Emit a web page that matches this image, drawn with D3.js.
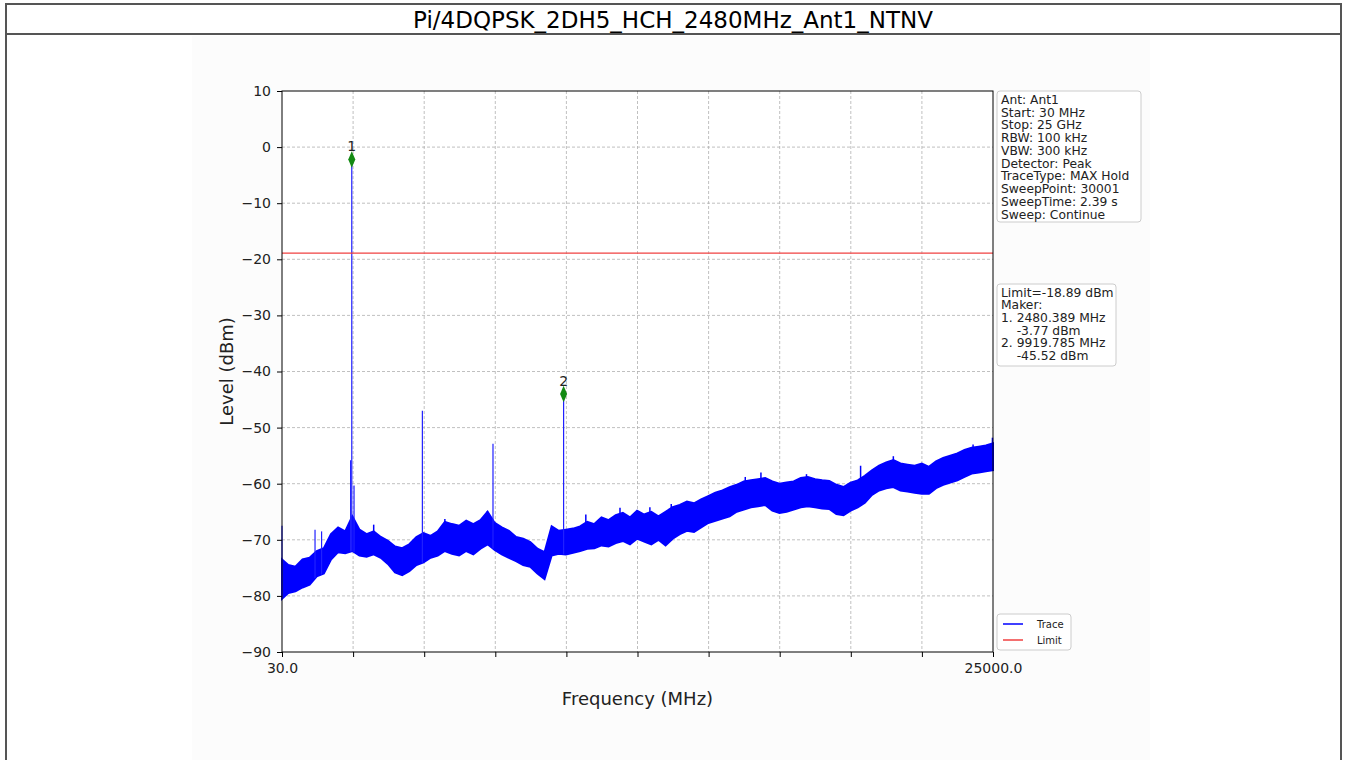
<!DOCTYPE html>
<html>
<head>
<meta charset="utf-8">
<script src="https://cdn.jsdelivr.net/npm/d3@7"></script>
<style>
  body { margin: 0; background: #fff; }
  svg text { font-family: "DejaVu Sans", sans-serif; }
</style>
</head>
<body>
<div class="chart"></div>
<script>
var svgWidth = 1346;
var svgHeight = 760;

// noise floor envelope (MHz, dBm)
var freqs = [30, 250, 500, 750, 1000, 1250, 1500, 1750, 2000, 2250, 2500, 2750, 3000, 3250, 3500, 3750,
  4000, 4250, 4500, 4750, 5000, 5250, 5500, 5750, 6000, 6250, 6500, 6750, 7000, 7250, 7500, 7750,
  8000, 8250, 8500, 8750, 9000, 9250, 9500, 9750, 10000, 10250, 10500, 10750, 11000, 11250, 11500, 11750,
  12000, 12250, 12500, 12750, 13000, 13250, 13500, 13750, 14000, 14250, 14500, 14750, 15000, 15250, 15500, 15750,
  16000, 16250, 16500, 16750, 17000, 17250, 17500, 17750, 18000, 18250, 18500, 18750, 19000, 19250, 19500, 19750,
  20000, 20250, 20500, 20750, 21000, 21250, 21500, 21750, 22000, 22250, 22500, 22750, 23000, 23250, 23500, 23750,
  24000, 24250, 24500, 24750, 25000];
var levelHigh = [-73.5, -74.5, -74.8, -73.5, -73.2, -72, -71.5, -69, -67.8, -68.5, -65.8, -68.2, -69, -68.5, -69.5, -70.2,
  -71.2, -71.5, -70.8, -69.5, -68.8, -69.3, -68.5, -66.8, -67.2, -67.5, -66.6, -67.2, -66.5, -65, -67, -67.8,
  -68.4, -69.5, -69.8, -70.4, -71.6, -72.2, -67.6, -68.4, -68.2, -68, -67.6, -66.8, -67.2, -66, -66.5, -65.6,
  -65.2, -66, -64.8, -65.5, -65, -65.8, -65, -64.2, -63.8, -63.2, -63.5, -62.8, -62.2, -61.6, -61.2, -60.6,
  -60.2, -59.6, -59.4, -59.2, -59, -59.6, -60, -59.8, -59.6, -59, -58.8, -59.2, -59.4, -59.5, -60.2, -60.6,
  -59.8, -59.4, -58.6, -57.6, -56.8, -56.2, -55.8, -56.4, -56.6, -56.8, -56.4, -57, -56, -55.4, -55, -54.6,
  -54, -53.6, -53.4, -53.2, -52.8];
var levelLow = [-80.5, -79.5, -79.2, -78.5, -78, -76.5, -76, -73.5, -72.2, -72.4, -72, -72.8, -73, -72.6, -73.2, -74.3,
  -75.8, -76.3, -75.6, -74.5, -74, -73.2, -72.8, -72, -72.5, -72.8, -72, -72.6, -71.6, -70.8, -71.8, -72.6,
  -73.2, -73.8, -74.5, -74.8, -76, -77, -72.8, -72.5, -72.6, -72.3, -72, -71.6, -71.5, -71, -71.2, -70.6,
  -70.2, -70.8, -69.8, -70.3, -70.8, -70, -71, -69.8, -69, -68.4, -68.6, -67.8, -67, -66.6, -66.2, -65.8,
  -65, -64.6, -64.2, -64, -63.8, -64.8, -65.2, -65, -64.6, -64.2, -64, -64.2, -64.4, -64.5, -65.4, -65.6,
  -64.8, -64.2, -63.4, -62, -61.2, -60.8, -60.6, -61.2, -61.4, -61.6, -61.8, -61.8, -60.8, -60.2, -59.8, -59.4,
  -58.8, -58.2, -58, -57.8, -57.6];

// narrow spurs rising out of the noise floor
var spurFreqs = [30, 1190, 1420, 2440, 2480.389, 2560, 4960, 7440, 9919.785];
var spurLevels = [-67.5, -68.2, -68.5, -55.8, -2.2, -60.3, -47, -52.9, -44.0];

// small noise peaks on top of the floor
var peakFreqs = [3250, 5750, 6560, 7240, 10700, 11900, 12950, 13700, 16300, 16850, 18450, 20350, 21500, 24300, 24980];
var peakLevels = [-67.3, -66.3, -66.8, -64.9, -65.5, -64.3, -64.2, -63.6, -58.8, -58, -58.3, -56.8, -55.1, -53, -51.8];

// markers
var markerNames = ["1", "2"];
var markerFreqs = [2480.389, 9919.785];
var markerLevels = [-2.2, -44.0];

var limitLevel = -18.89;

var yTicks = [-90, -80, -70, -60, -50, -40, -30, -20, -10, 0, 10];
var xTicks = [30, 2527, 5024, 7521, 10018, 12515, 15012, 17509, 20006, 22503, 25000];
var xTickLabels = ["30.0", "", "", "", "", "", "", "", "", "", "25000.0"];

var infoLines = ["Ant: Ant1", "Start: 30 MHz", "Stop: 25 GHz", "RBW: 100 kHz", "VBW: 300 kHz",
  "Detector: Peak", "TraceType: MAX Hold", "SweepPoint: 30001", "SweepTime: 2.39 s", "Sweep: Continue"];
var markerLines = ["Limit=-18.89 dBm", "Maker:", "1. 2480.389 MHz", "    -3.77 dBm", "2. 9919.785 MHz", "    -45.52 dBm"];

var title = "Pi/4DQPSK_2DH5_HCH_2480MHz_Ant1_NTNV";

var plot = { left: 282, right: 993, top: 91, bottom: 652 };

var svg = d3.select(".chart")
  .append("svg")
  .attr("width", svgWidth)
  .attr("height", svgHeight);

// table frame with title cell
svg.append("rect").attr("x", 192).attr("y", 36).attr("width", 958).attr("height", 724).attr("fill", "#fcfcfc");
svg.append("line").attr("x1", 5).attr("x2", 1342).attr("y1", 4).attr("y2", 4).attr("stroke", "#555").attr("stroke-width", 2);
svg.append("line").attr("x1", 5).attr("x2", 1342).attr("y1", 34).attr("y2", 34).attr("stroke", "#555").attr("stroke-width", 2);
svg.append("line").attr("x1", 6).attr("x2", 6).attr("y1", 3).attr("y2", 760).attr("stroke", "#555").attr("stroke-width", 2);
svg.append("line").attr("x1", 1341).attr("x2", 1341).attr("y1", 3).attr("y2", 760).attr("stroke", "#555").attr("stroke-width", 2);

svg.append("text")
  .attr("x", 673).attr("y", 28)
  .attr("text-anchor", "middle")
  .attr("font-size", "23px")
  .attr("font-family", "'Liberation Sans', Arial, sans-serif")
  .attr("fill", "#000")
  .text(title);

var x = d3.scaleLinear().domain([30, 25000]).range([plot.left, plot.right]);
var y = d3.scaleLinear().domain([-90, 10]).range([plot.bottom, plot.top]);

var chart = svg.append("g");

chart.append("rect")
  .attr("x", plot.left).attr("y", plot.top)
  .attr("width", plot.right - plot.left).attr("height", plot.bottom - plot.top)
  .attr("fill", "#fff");

// grid
chart.selectAll(".vgrid").data(xTicks.slice(1, -1)).enter().append("line")
  .attr("x1", d => x(d)).attr("x2", d => x(d))
  .attr("y1", plot.top).attr("y2", plot.bottom)
  .attr("stroke", "#b0b0b0").attr("stroke-width", 0.8).attr("stroke-dasharray", "3,2");
chart.selectAll(".hgrid").data(yTicks.slice(1, -1)).enter().append("line")
  .attr("x1", plot.left).attr("x2", plot.right)
  .attr("y1", d => y(d)).attr("y2", d => y(d))
  .attr("stroke", "#b0b0b0").attr("stroke-width", 0.8).attr("stroke-dasharray", "3,2");

// trace: noise band
var band = freqs.map(function(f, i) { return { f: f, hi: levelHigh[i], lo: levelLow[i] }; });
var area = d3.area()
  .x(d => x(d.f))
  .y0(d => y(d.lo))
  .y1(d => y(d.hi));
chart.append("path")
  .datum(band)
  .attr("d", area)
  .attr("fill", "#0000ff")
  .attr("stroke", "#0000ff")
  .attr("stroke-width", 2)
  .attr("stroke-linejoin", "miter");

var lowAt = d3.scaleLinear().domain(freqs).range(levelLow);
var highAt = d3.scaleLinear().domain(freqs).range(levelHigh);

// noise peaks
chart.selectAll(".peak").data(peakFreqs).enter().append("line")
  .attr("x1", d => x(d)).attr("x2", d => x(d))
  .attr("y1", d => y(highAt(d)) + 2)
  .attr("y2", (d, i) => y(peakLevels[i]))
  .attr("stroke", "#0000ff").attr("stroke-width", 1.5);

// spurs
chart.selectAll(".spur").data(spurFreqs).enter().append("line")
  .attr("x1", d => x(d)).attr("x2", d => x(d))
  .attr("y1", d => y(lowAt(d)))
  .attr("y2", (d, i) => y(spurLevels[i]))
  .attr("stroke", "#2020ff").attr("stroke-width", 1.2);

// limit
chart.append("line")
  .attr("x1", plot.left).attr("x2", plot.right)
  .attr("y1", y(limitLevel)).attr("y2", y(limitLevel))
  .attr("stroke", "#f04040").attr("stroke-width", 1.2);

// markers
var diamond = d3.symbol().type(d3.symbolDiamond).size(60);
chart.selectAll(".marker").data(markerFreqs).enter().append("path")
  .attr("d", diamond)
  .attr("transform", (d, i) => "translate(" + x(d) + "," + y(markerLevels[i]) + ") scale(0.85,1.15)")
  .attr("fill", "#138a13");
chart.selectAll(".mlabel").data(markerFreqs).enter().append("text")
  .attr("x", d => x(d))
  .attr("y", (d, i) => y(markerLevels[i]) - 8)
  .attr("text-anchor", "middle")
  .attr("font-size", "14px")
  .attr("fill", "#222")
  .text((d, i) => markerNames[i]);

// frame
chart.append("rect")
  .attr("x", plot.left).attr("y", plot.top)
  .attr("width", plot.right - plot.left).attr("height", plot.bottom - plot.top)
  .attr("fill", "none").attr("stroke", "#000").attr("stroke-width", 1);

// axes
var bottomAxis = d3.axisBottom(x).tickValues(xTicks).tickSize(5).tickPadding(6)
  .tickFormat((d, i) => xTickLabels[i]);
var leftAxis = d3.axisLeft(y).tickValues(yTicks).tickSize(5).tickPadding(6)
  .tickFormat(d => String(d).replace("-", "\u2212"));

var gx = chart.append("g").attr("transform", "translate(0," + plot.bottom + ")").call(bottomAxis);
var gy = chart.append("g").attr("transform", "translate(" + plot.left + ",0)").call(leftAxis);
[gx, gy].forEach(function(g) {
  g.select(".domain").remove();
  g.selectAll("text").attr("font-size", "14px").attr("fill", "#222")
    .attr("font-family", "'DejaVu Sans', sans-serif");
  g.selectAll("line").attr("stroke", "#000");
});

chart.append("text")
  .attr("x", (plot.left + plot.right) / 2).attr("y", 705)
  .attr("text-anchor", "middle").attr("font-size", "18px").attr("fill", "#222")
  .text("Frequency (MHz)");
chart.append("text")
  .attr("transform", "translate(233," + ((plot.top + plot.bottom) / 2) + ") rotate(-90)")
  .attr("text-anchor", "middle").attr("font-size", "18px").attr("fill", "#222")
  .text("Level (dBm)");

// info boxes
function textBox(x0, y0, w, h, lines, lineH, size) {
  var g = svg.append("g");
  g.append("rect").attr("x", x0).attr("y", y0).attr("width", w).attr("height", h)
    .attr("rx", 3).attr("fill", "#fff").attr("stroke", "#ccc").attr("stroke-width", 1);
  g.selectAll("text").data(lines).enter().append("text")
    .attr("x", x0 + 4)
    .attr("y", (d, i) => y0 + 12.8 + i * lineH)
    .attr("font-size", size + "px").attr("fill", "#222")
    .style("white-space", "pre")
    .text(d => d);
  return g;
}
textBox(997, 91, 144, 131, infoLines, 12.75, 12.3);
textBox(997, 284, 119, 82, markerLines, 12.6, 12.3);

// legend
var lg = svg.append("g");
lg.append("rect").attr("x", 997).attr("y", 614).attr("width", 74).attr("height", 36)
  .attr("rx", 3).attr("fill", "#fff").attr("stroke", "#ccc");
var legendNames = ["Trace", "Limit"];
var legendColors = ["#0000ff", "#f04040"];
lg.selectAll("line").data(legendNames).enter().append("line")
  .attr("x1", 1003).attr("x2", 1023)
  .attr("y1", (d, i) => 624 + i * 16).attr("y2", (d, i) => 624 + i * 16)
  .attr("stroke", (d, i) => legendColors[i]).attr("stroke-width", 1.5);
lg.selectAll("text").data(legendNames).enter().append("text")
  .attr("x", 1037).attr("y", (d, i) => 628 + i * 16)
  .attr("font-size", "10px").attr("fill", "#222")
  .text(d => d);
</script>
</body>
</html>
